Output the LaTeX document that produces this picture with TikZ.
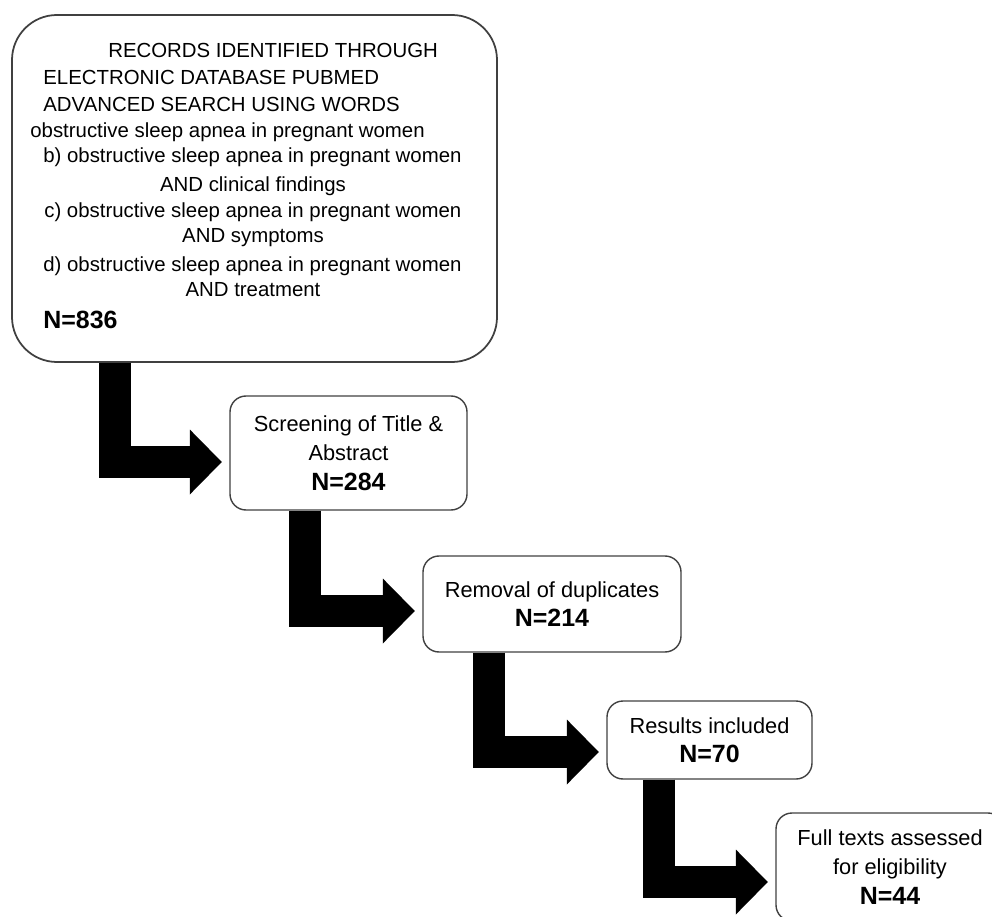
\documentclass[tikz,border=0pt]{standalone}
\usepackage{fontspec}
\setsansfont{Liberation Sans}
\usepackage{tikz}
\usetikzlibrary{positioning,arrows.meta}
\definecolor{BoxGray}{HTML}{404040}
\newcommand{\countline}[1]{{\fontsize{14.2}{16.8}\selectfont\bfseries #1}}

\begin{document}
\begin{tikzpicture}[every node/.style={font=\sffamily}]
  \useasboundingbox (0,0) rectangle (19.84,-18.34);
  \tikzstyle{stage}=[rectangle, rounded corners=0.32cm, draw=BoxGray, line width=0.8pt, align=center,
  font=\sffamily\fontsize{12.4}{16.8}\selectfont]
  \tikzstyle{recline}=[anchor=base west, inner sep=0pt, font=\sffamily\fontsize{11.6}{14}\selectfont]
  \tikzstyle{flow}=[line width=0.64cm, -{Triangle[length=0.64cm, width=1.3cm, line width=0pt]}, shorten >=0.15cm]
  \node[stage, rounded corners=0.9cm, line width=1pt, minimum width=9.7cm, minimum height=6.94cm] (records) at (5.09,-3.77) {};
  \node[recline] (recline1) at (2.16,-1.16) {RECORDS IDENTIFIED THROUGH};
  \node[recline] (recline2) at (0.86,-1.70) {ELECTRONIC DATABASE PUBMED};
  \node[recline] (recline3) at (0.86,-2.24) {ADVANCED SEARCH USING WORDS};
  \node[recline] (recline4) at (0.60,-2.76) {obstructive sleep apnea in pregnant women};
  \node[recline] (recline5) at (0.86,-3.26) {b) obstructive sleep apnea in pregnant women};
  \node[recline, anchor=base] (recline6) at (5.06,-3.84) {AND clinical findings};
  \node[recline] (recline7) at (0.88,-4.36) {c) obstructive sleep apnea in pregnant women};
  \node[recline, anchor=base] (recline8) at (5.06,-4.86) {AND symptoms};
  \node[recline] (recline9) at (0.86,-5.44) {d) obstructive sleep apnea in pregnant women};
  \node[recline, anchor=base] (recline10) at (5.06,-5.94) {AND treatment};
  \node[recline] (reccount) at (0.86,-6.58) {\countline{N=836}};
  \node[stage, on grid, below right=5.29cm and 1.88cm of records, minimum width=4.74cm, minimum height=2.28cm] (screening)
  {Screening of Title \&\\Abstract\\\countline{N=284}};
  \node[stage, on grid, below right=3.02cm and 4.07cm of screening, minimum width=5.16cm, minimum height=1.92cm] (duplicates)
  {Removal of duplicates\\\countline{N=214}};
  \node[stage, on grid, below right=2.72cm and 3.15cm of duplicates, minimum width=4.1cm, minimum height=1.56cm] (included)
  {Results included\\\countline{N=70}};
  \node[stage, on grid, below right=2.54cm and 3.61cm of included, minimum width=4.56cm, minimum height=2.16cm] (fulltext)
  {Full texts assessed\\for eligibility\\\countline{N=44}};
  \draw[flow] ([xshift=2.07cm]records.south west) |- ([yshift=-0.18cm]screening.west);
  \draw[flow] ([xshift=1.51cm]screening.south west) |- ([yshift=-0.14cm]duplicates.west);
  \draw[flow] ([xshift=1.33cm]duplicates.south west) |- ([yshift=-0.24cm]included.west);
  \draw[flow] ([xshift=1.06cm]included.south west) |- ([yshift=-0.3cm]fulltext.west);
\end{tikzpicture}
\end{document}
